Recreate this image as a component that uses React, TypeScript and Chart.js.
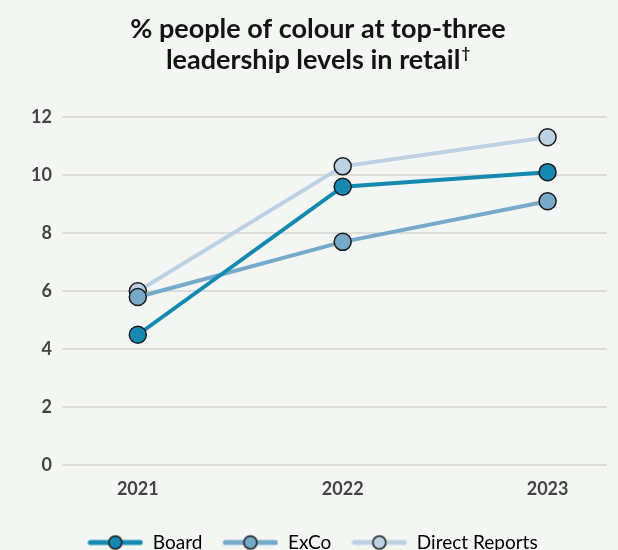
import React, { useEffect, useRef } from "react";
import { Chart, registerables } from "chart.js";

Chart.register(...registerables);

const titleLine1 = "% people of colour at top-three";
const titleLine2 = "leadership levels in retail";
const titleMark = "\u2020";
const categories = ["2021", "2022", "2023"];
const seriesNames = ["Board", "ExCo", "Direct Reports"];
const boardValues = [4.5, 9.6, 10.1];
const excoValues = [5.8, 7.7, 9.1];
const directValues = [6.0, 10.3, 11.3];
const yTicks = [0, 2, 4, 6, 8, 10, 12];

const colors = ["#1689b1", "#77aac9", "#bcd1e4"];
const FONT = "Lato, 'Open Sans', sans-serif";

function legendIcon(color: string): HTMLCanvasElement {
  const c = document.createElement("canvas");
  c.width = 56;
  c.height = 18;
  const ctx = c.getContext("2d")!;
  ctx.strokeStyle = color;
  ctx.lineWidth = 5;
  ctx.lineCap = "round";
  ctx.beginPath();
  ctx.moveTo(3, 9);
  ctx.lineTo(53, 9);
  ctx.stroke();
  ctx.beginPath();
  ctx.arc(28, 9, 6.5, 0, Math.PI * 2);
  ctx.fillStyle = color;
  ctx.fill();
  ctx.lineWidth = 1.5;
  ctx.strokeStyle = "#1a1a1a";
  ctx.stroke();
  return c;
}

const titlePlugin = {
  id: "customTitle",
  afterLayout(chart: any) {
    if (chart.legend) {
      chart.legend.left += 9;
      chart.legend.right += 9;
    }
  },
  afterDraw(chart: any) {
    const ctx = chart.ctx as CanvasRenderingContext2D;
    ctx.save();
    ctx.fillStyle = "#141414";
    ctx.textBaseline = "alphabetic";
    ctx.font = `bold 27px ${FONT}`;
    const cx = 318;
    ctx.textAlign = "center";
    ctx.fillText(titleLine1, cx, 38);
    const w2 = ctx.measureText(titleLine2).width;
    ctx.font = `bold 15px ${FONT}`;
    const wm = ctx.measureText(titleMark).width;
    const start = cx - (w2 + wm + 1) / 2;
    ctx.textAlign = "left";
    ctx.font = `bold 27px ${FONT}`;
    ctx.fillText(titleLine2, start, 69);
    ctx.font = `bold 15px ${FONT}`;
    ctx.fillText(titleMark, start + w2 + 1, 58);
    ctx.restore();
  },
};

export default function App() {
  const ref = useRef<HTMLCanvasElement>(null);
  useEffect(() => {
    if (!ref.current) return;
    const series = [boardValues, excoValues, directValues];
    const icons = colors.map(legendIcon);
    const chart = new Chart(ref.current, {
      type: "line",
      data: {
        datasets: series.map((vals, i) => ({
          label: seriesNames[i],
          data: categories.map((c, j) => ({ x: Number(c), y: vals[j] })),
          borderColor: colors[i],
          backgroundColor: colors[i],
          borderWidth: 4,
          pointRadius: 8.5,
          pointHoverRadius: 8.5,
          pointBorderWidth: 1.5,
          pointBorderColor: "#1a1a1a",
          pointBackgroundColor: colors[i],
          pointStyle: "circle",
          tension: 0,
        })),
      },
      plugins: [titlePlugin],
      options: {
        animation: false,
        responsive: false,
        maintainAspectRatio: false,
        layout: { padding: { left: 0, right: 11, top: 117, bottom: 0 } },
        plugins: {
          title: { display: false },
          legend: {
            display: true,
            position: "bottom",
            labels: {
              usePointStyle: true,
              pointStyleWidth: 56,
              boxHeight: 18,
              color: "#333333",
              font: { family: FONT, size: 19 },
              padding: 20,
              generateLabels: () =>
                seriesNames.map((n, i) => ({
                  text: n,
                  pointStyle: icons[i] as any,
                  fillStyle: colors[i],
                  strokeStyle: colors[i],
                  lineWidth: 0,
                  hidden: false,
                  datasetIndex: i,
                })),
            },
          },
          tooltip: { enabled: false },
        },
        scales: {
          x: {
            type: "linear",
            min: 2020.63,
            max: 2023.29,
            afterBuildTicks: (s: any) => {
              s.ticks = categories.map((c) => ({ value: Number(c) }));
            },
            grid: { display: false, drawTicks: false },
            border: { display: false },
            ticks: {
              padding: 13,
              color: "#444444",
              font: { family: FONT, size: 18, weight: "bold" },
              callback: (v: any) => String(v),
            },
          },
          y: {
            min: 0,
            max: 12,
            afterBuildTicks: (s: any) => {
              s.ticks = yTicks.map((v) => ({ value: v }));
            },
            afterFit: (s: any) => {
              s.width = 62;
            },
            grid: { color: "#dcdcda", lineWidth: 2, drawTicks: false },
            border: { display: false },
            ticks: {
              padding: 10,
              color: "#444444",
              font: { family: FONT, size: 18, weight: "bold" },
            },
          },
        },
      },
    });
    return () => chart.destroy();
  }, []);
  return (
    <div
      style={{
        position: "fixed",
        left: 0,
        top: 0,
        width: 618,
        height: 562,
        background: "#f4f6f4",
      }}
    >
      <canvas ref={ref} width={618} height={562} style={{ display: "block" }} />
    </div>
  );
}
